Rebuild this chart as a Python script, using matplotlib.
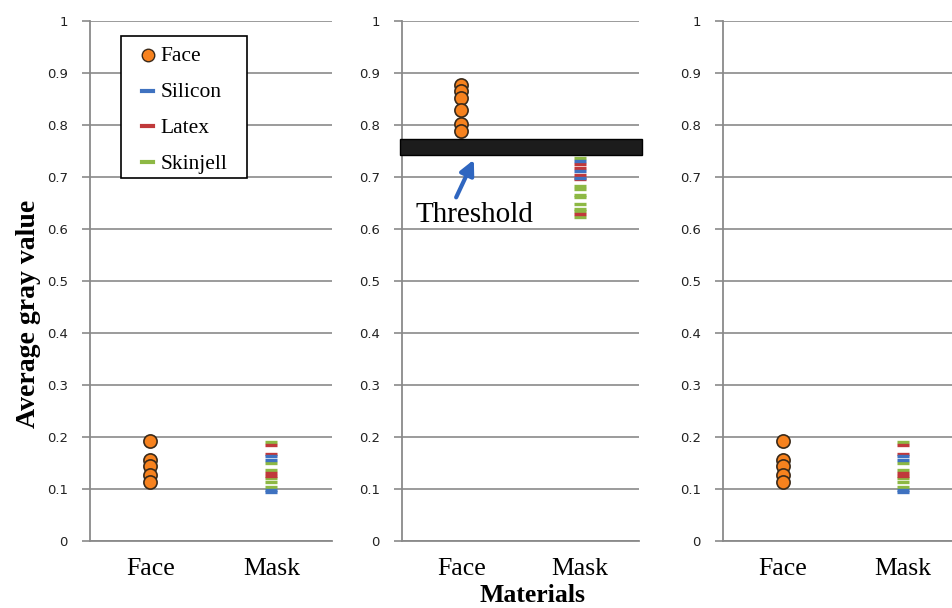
import matplotlib.pyplot as plt
from matplotlib.patches import Rectangle
from matplotlib.lines import Line2D

# gray values per material, read per panel
categories = ['Face', 'Mask']

face_low = [0.192, 0.155, 0.144, 0.127, 0.113]
silicon_low = [0.163, 0.155, 0.098, 0.095]
latex_low = [0.185, 0.168, 0.130, 0.125]
skinjell_low = [0.190, 0.150, 0.136, 0.121, 0.114, 0.104]

face_mid = [0.876, 0.865, 0.851, 0.829, 0.802, 0.789]
silicon_mid = [0.731, 0.711, 0.699]
latex_mid = [0.725, 0.718, 0.703, 0.696, 0.629]
skinjell_mid = [0.737, 0.682, 0.677, 0.666, 0.661, 0.648, 0.638, 0.634, 0.624]

threshold_lo = 0.743
threshold_hi = 0.774

legend_labels = ['Face', 'Silicon', 'Latex', 'Skinjell']

yticks = [0, 0.1, 0.2, 0.3, 0.4, 0.5, 0.6, 0.7, 0.8, 0.9, 1]
ytick_labels = ['0', '0.1', '0.2', '0.3', '0.4', '0.5', '0.6', '0.7', '0.8', '0.9', '1']

orange = '#F7821E'
blue = '#3F72C0'
red = '#C0393B'
green = '#8DB844'
grid_gray = '#8A8A8A'
edge = '#3a2a1a'
serif = 'Liberation Serif'

W, H = 953, 608
fig = plt.figure(figsize=(W / 100, H / 100), dpi=100)

def make_axes(left_px, right_px):
    bottom = (H - 541) / H
    height = 520 / H
    return fig.add_axes([left_px / W, bottom, (right_px - left_px) / W, height])

def style(ax):
    ax.set_xlim(0.5, 2.5)
    ax.set_ylim(0, 1)
    ax.set_yticks(yticks)
    ax.set_yticklabels(ytick_labels, fontsize=9.5, color='#222222')
    ax.set_xticks([1, 2])
    ax.set_xticklabels(categories, fontsize=18.5, family=serif)
    ax.tick_params(axis='x', length=0, pad=12)
    ax.tick_params(axis='y', length=6, width=1.2, color=grid_gray, pad=10)
    for s in ['top', 'right']:
        ax.spines[s].set_visible(False)
    ax.spines['left'].set_color(grid_gray)
    ax.spines['left'].set_linewidth(1.3)
    ax.spines['bottom'].set_color(grid_gray)
    ax.spines['bottom'].set_linewidth(1.3)
    ax.yaxis.grid(True, color=grid_gray, linewidth=1.2)
    ax.set_axisbelow(True)

def plot_panel(ax, face, silicon, latex, skinjell):
    style(ax)
    ax.plot([1] * len(face), face, 'o', color=orange, markersize=9.5,
            markeredgecolor=edge, markeredgewidth=1.2, zorder=4)
    dash = dict(marker='_', linestyle='none', markersize=9, markeredgewidth=2.4, zorder=3)
    ax.plot([2] * len(skinjell), skinjell, color=green, **dash)
    ax.plot([2] * len(latex), latex, color=red, **dash)
    ax.plot([2] * len(silicon), silicon, color=blue, **dash)

ax1 = make_axes(90, 332)
ax2 = make_axes(402, 639)
ax3 = make_axes(723, 963)

plot_panel(ax1, face_low, silicon_low, latex_low, skinjell_low)
plot_panel(ax2, face_mid, silicon_mid, latex_mid, skinjell_mid)
plot_panel(ax3, face_low, silicon_low, latex_low, skinjell_low)

# threshold band across the middle panel
band = Rectangle((-0.008, threshold_lo), 1.022, threshold_hi - threshold_lo,
                 transform=ax2.get_yaxis_transform(), facecolor='#1c1c1c',
                 edgecolor='black', linewidth=1, clip_on=False, zorder=5)
ax2.add_patch(band)
ax2.annotate('', xy=(1.116, 0.738), xytext=(0.947, 0.656),
             arrowprops=dict(arrowstyle='-|>', color='#2F66C0', lw=3,
                             mutation_scale=22), zorder=6)
ax2.text(0.61, 0.626, 'Threshold', fontsize=21, family=serif,
         ha='left', va='center', zorder=6)

# legend box on the first panel, laid out by hand
ta = ax1.transAxes
ax1.add_patch(Rectangle((0.128, 0.698), 0.521, 0.273, transform=ta,
                        facecolor='white', edgecolor='black', linewidth=1.2, zorder=7))
legend_colors = [orange, blue, red, green]
for i, (lab, col) in enumerate(zip(legend_labels, legend_colors)):
    yy = 0.935 - i * 0.0687
    if i == 0:
        ax1.plot(0.238, yy, 'o', transform=ta, color=col, markersize=9,
                 markeredgecolor=edge, markeredgewidth=1.0, zorder=8, clip_on=False)
    else:
        ax1.add_line(Line2D([0.215, 0.262], [yy, yy], transform=ta, color=col,
                            linewidth=3, zorder=8))
    ax1.text(0.29, yy - 0.004, lab, transform=ta, fontsize=15.5, family=serif,
             ha='left', va='center', zorder=8)

fig.text(29 / W, (H - 314) / H, 'Average gray value', rotation=90, fontsize=20,
         fontweight='bold', family=serif, ha='center', va='center')
fig.text(533 / W, (H - 595) / H, 'Materials', fontsize=18.5, fontweight='bold',
         family=serif, ha='center', va='center')

fig.savefig('out.png', dpi=100)
